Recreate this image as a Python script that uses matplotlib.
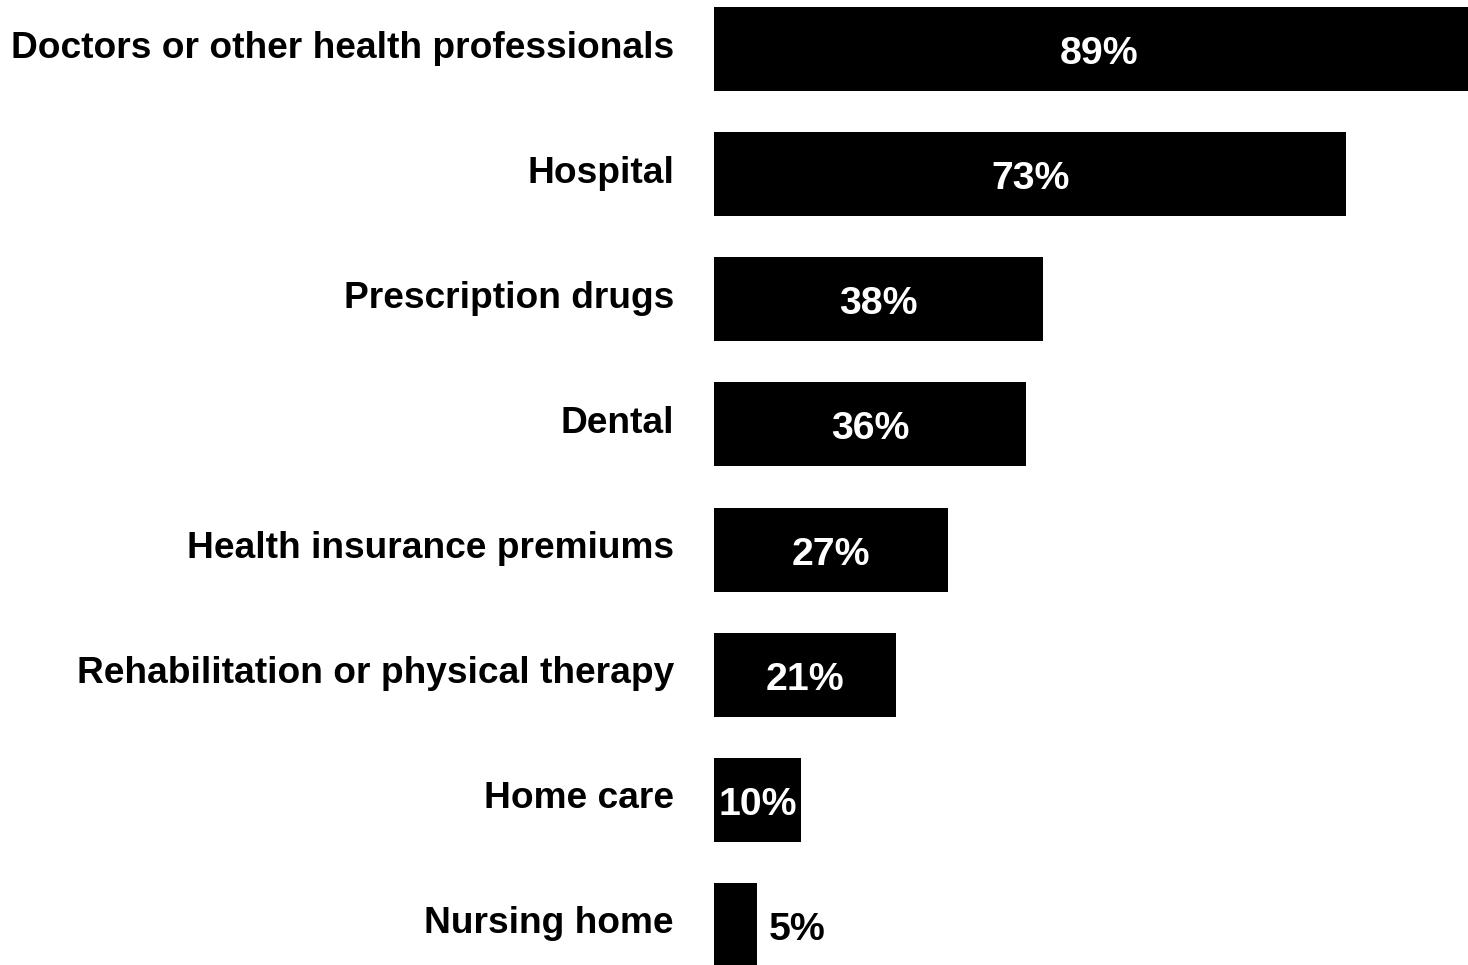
import matplotlib.pyplot as plt
import matplotlib.transforms as mtransforms

categories = [
    "Doctors or other health professionals",
    "Hospital",
    "Prescription drugs",
    "Dental",
    "Health insurance premiums",
    "Rehabilitation or physical therapy",
    "Home care",
    "Nursing home",
]
values = [89, 73, 38, 36, 27, 21, 10, 5]

plt.rcParams['font.family'] = ['Liberation Sans', 'DejaVu Sans']

fig = plt.figure(figsize=(14.68, 9.65), dpi=100)
# axes starts where the bars start (x=714 px) and runs to the right edge
ax = fig.add_axes([714 / 1468, 0, 1 - 714 / 1468, 1])

pos = list(range(len(categories)))
ax.barh(pos, values, height=0.672, color='black')
ax.set_xlim(0, 87.07)
ax.set_ylim(7.32, -0.392)
ax.axis('off')

label_off = mtransforms.offset_copy(ax.transData, fig=fig, x=-40, y=1, units='dots')
for p, name in zip(pos, categories):
    ax.text(0, p, name, transform=label_off, ha='right', va='center',
            fontsize=26.7, fontweight='bold', color='black')

val_off = mtransforms.offset_copy(ax.transData, fig=fig, x=0, y=-5, units='dots')
for p, v in zip(pos, values):
    if v >= 10:
        ax.text(v / 2, p, f"{v}%", transform=val_off, ha='center', va='center',
                fontsize=28.3, fontweight='bold', color='white', clip_on=False)
    else:
        ax.text(v + 1.3, p, f"{v}%", transform=val_off, ha='left', va='center',
                fontsize=28.3, fontweight='bold', color='black')

fig.savefig('out.png', dpi=100)
